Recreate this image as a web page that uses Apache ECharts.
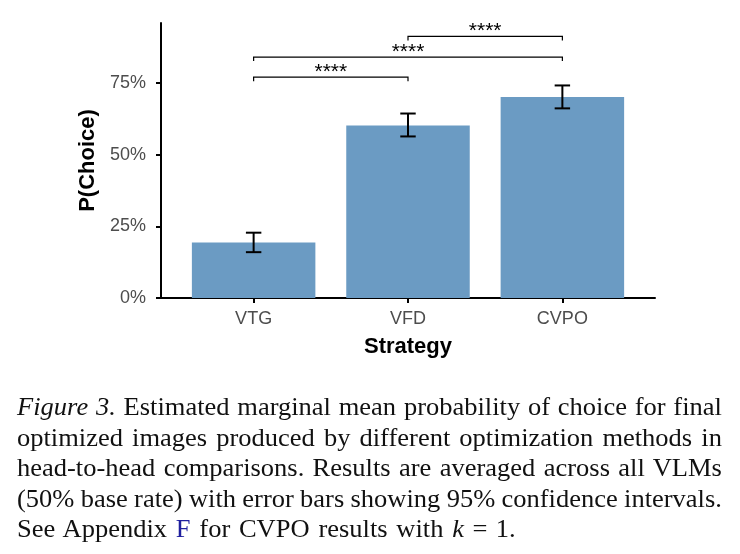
<!DOCTYPE html>
<html>
  <head>
    <meta charset="UTF-8" />
    <title>Figure 3</title>
    <style>
      body { margin: 0; background: #fff; }
      #chart {
        width: 740px;
        height: 554px;
        position: absolute;
        left: 0;
        top: 0;
      }
      #caption {
        position: absolute;
        left: 17px;
        top: 392px;
        width: 665px;
        font-family: "Liberation Serif", serif;
        font-size: 25px;
        line-height: 30.5px;
        color: #111;
        transform: scaleX(1.06);
        transform-origin: left top;
      }
      #caption div {
        white-space: nowrap;
        word-spacing: -1px;
        text-align: justify;
        text-align-last: justify;
      }
      #caption div.last { text-align-last: left; word-spacing: 2px; }
      #caption .ref { color: #1f1f9e; }
      #caption .eq { margin: 0 8px; }
    </style>
    <script src="https://cdn.jsdelivr.net/npm/echarts@6/dist/echarts.min.js"></script>
  </head>

  <body>
    <div id="chart"></div>
    <div id="caption">
      <div><i>Figure 3.</i> Estimated marginal mean probability of choice for final</div>
      <div>optimized images produced by different optimization methods in</div>
      <div>head-to-head comparisons. Results are averaged across all VLMs</div>
      <div>(50% base rate) with error bars showing 95% confidence intervals.</div>
      <div class="last">See Appendix <span class="ref">F</span> for CVPO results with <i>k</i><span class="eq">=</span>1.</div>
    </div>

    <script>
      // 数据
      var categories = ["VTG", "VFD", "CVPO"];
      var means = [19.4, 60.2, 70.2];
      var ciLow = [16.0, 56.4, 66.2];
      var ciHigh = [22.8, 64.4, 74.2];
      var yTicks = [0, 25, 50, 75];

      // significance brackets: from, to, height, label
      var bracketFrom = [0, 0, 1];
      var bracketTo = [1, 2, 2];
      var bracketY = [77.1, 84.1, 91.3];
      var bracketLabels = ["****", "****", "****"];

      var myChart = echarts.init(document.getElementById("chart"));

      var barData = categories.map(function (c, i) {
        return [i + 1, means[i], ciLow[i], ciHigh[i]];
      });
      var bracketData = bracketFrom.map(function (f, i) {
        return [f + 1, bracketTo[i] + 1, bracketY[i], bracketLabels[i]];
      });

      var axisFont = "Liberation Sans";

      function renderBar(params, api) {
        var x = api.value(0);
        var v = api.value(1);
        var p0 = api.coord([x - 0.4, v]);
        var p1 = api.coord([x + 0.4, 0]);
        return {
          type: "rect",
          shape: { x: p0[0], y: p0[1], width: p1[0] - p0[0], height: p1[1] - p0[1] },
          style: { fill: "#6b9bc3" }
        };
      }

      function renderErr(params, api) {
        var x = api.value(0);
        var lo = api.coord([x, api.value(2)]);
        var hi = api.coord([x, api.value(3)]);
        var l = api.coord([x - 0.05, 0])[0];
        var r = api.coord([x + 0.05, 0])[0];
        var st = { stroke: "#000", lineWidth: 2 };
        return {
          type: "group",
          children: [
            { type: "line", shape: { x1: lo[0], y1: lo[1], x2: hi[0], y2: hi[1] }, style: st },
            { type: "line", shape: { x1: l, y1: lo[1], x2: r, y2: lo[1] }, style: st },
            { type: "line", shape: { x1: l, y1: hi[1], x2: r, y2: hi[1] }, style: st }
          ]
        };
      }

      function renderBracket(params, api) {
        var a = api.coord([api.value(0), api.value(2)]);
        var b = api.coord([api.value(1), api.value(2)]);
        var tip = api.coord([api.value(0), api.value(2) - 1.4])[1];
        var st = { stroke: "#000", lineWidth: 1.2, fill: null };
        return {
          type: "group",
          children: [
            {
              type: "polyline",
              shape: { points: [[a[0], tip], a, b, [b[0], tip]] },
              style: st
            },
            {
              type: "text",
              x: (a[0] + b[0]) / 2,
              y: a[1] - 5,
              style: {
                text: bracketLabels[params.dataIndex],
                fill: "#000",
                font: "21px " + axisFont,
                align: "center",
                verticalAlign: "middle"
              }
            }
          ]
        };
      }

      var option = {
        animation: false,
        grid: { left: 161, right: 85, top: 23, bottom: 256 },
        xAxis: {
          type: "value",
          min: 0.4,
          max: 3.6,
          name: "Strategy",
          nameLocation: "middle",
          nameGap: 38,
          nameTextStyle: { fontFamily: axisFont, fontSize: 22, fontWeight: "bold", color: "#000" },
          axisLine: { onZero: false, lineStyle: { color: "#000", width: 2 } },
          axisTick: { show: true, length: 5, customValues: [1, 2, 3], lineStyle: { color: "#000", width: 2 } },
          axisLabel: {
            customValues: [1, 2, 3],
            margin: 12,
            fontFamily: axisFont,
            fontSize: 18,
            color: "#4d4d4d",
            formatter: function (v) { return categories[Math.round(v) - 1]; }
          },
          splitLine: { show: false }
        },
        yAxis: {
          type: "value",
          min: 0,
          max: 96,
          name: "P(Choice)",
          nameLocation: "middle",
          nameGap: 47,
          nameTextStyle: { fontFamily: axisFont, fontSize: 22, fontWeight: "bold", color: "#000" },
          axisLine: { show: true, lineStyle: { color: "#000", width: 2 } },
          axisTick: { show: true, length: 5, customValues: yTicks, lineStyle: { color: "#000", width: 2 } },
          axisLabel: {
            customValues: yTicks,
            margin: 15,
            fontFamily: axisFont,
            fontSize: 18,
            color: "#4d4d4d",
            formatter: function (v) { return v + "%"; }
          },
          splitLine: { show: false }
        },
        series: [
          { type: "custom", renderItem: renderBar, data: barData, z: 1 },
          { type: "custom", renderItem: renderErr, data: barData, z: 2 },
          { type: "custom", renderItem: renderBracket, data: bracketData, z: 3, clip: false }
        ]
      };

      myChart.setOption(option);
    </script>
  </body>
</html>
